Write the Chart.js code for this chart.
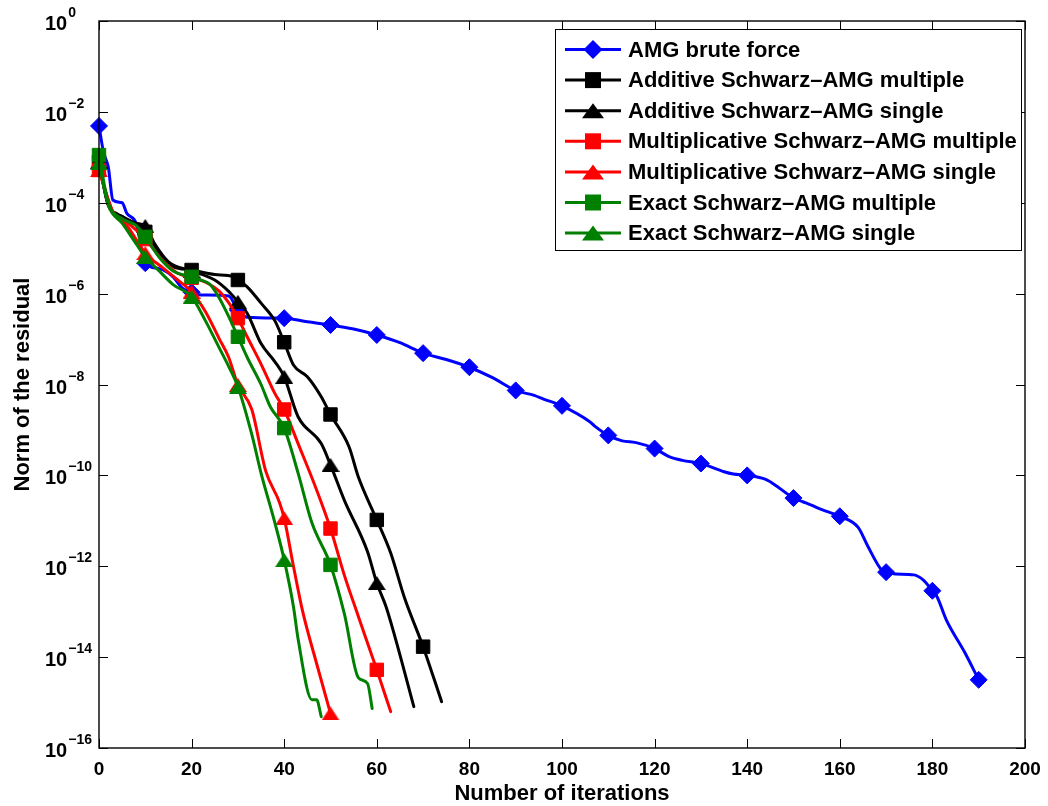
<!DOCTYPE html>
<html>
<head>
<meta charset="utf-8">
<script src="https://cdn.jsdelivr.net/npm/chart.js@4/dist/chart.umd.min.js"></script>
<style>
  html, body { margin: 0; padding: 0; background: #fff; }
  canvas { display: block; }
</style>
</head>
<body>
<canvas id="c" width="1048" height="806"></canvas>
<script>
// Residual history of each solver: iteration numbers and log10 of the residual norm
const seriesNames = [
  'AMG brute force',
  'Additive Schwarz\u2013AMG multiple',
  'Additive Schwarz\u2013AMG single',
  'Multiplicative Schwarz\u2013AMG multiple',
  'Multiplicative Schwarz\u2013AMG single',
  'Exact Schwarz\u2013AMG multiple',
  'Exact Schwarz\u2013AMG single'
];

const amgBruteIter = [0, 1, 2, 3, 5, 6, 8, 10, 13, 16, 18, 20, 22, 28, 30, 32, 40, 45, 50, 55, 60, 65, 70, 75, 80, 85, 90, 94, 96, 100, 106, 107, 110, 113, 116, 120, 123, 126, 130, 135, 137, 140, 144, 146, 150, 152, 154, 156, 160, 164, 166, 169, 170, 172, 176, 178, 180, 181, 183, 187, 190];
const amgBruteExp  = [-2.31, -2.90, -3.21, -3.94, -4.00, -4.23, -4.45, -5.33, -5.45, -5.63, -5.88, -5.97, -6.03, -6.05, -6.36, -6.52, -6.54, -6.62, -6.69, -6.78, -6.91, -7.08, -7.31, -7.45, -7.62, -7.85, -8.13, -8.24, -8.32, -8.47, -8.82, -8.91, -9.12, -9.24, -9.28, -9.41, -9.58, -9.67, -9.74, -9.92, -9.97, -10.00, -10.09, -10.21, -10.50, -10.58, -10.66, -10.75, -10.90, -11.15, -11.55, -12.08, -12.13, -12.17, -12.19, -12.30, -12.54, -12.67, -13.18, -13.90, -14.50];

const addMultiIter = [0, 2, 4, 7, 10, 13, 16, 20, 25, 29, 30, 32, 35, 38, 40, 42, 45, 48, 50, 54, 56, 60, 63, 66, 70, 74];
const addMultiExp  = [-3.10, -4.05, -4.25, -4.42, -4.64, -5.10, -5.40, -5.48, -5.58, -5.62, -5.70, -5.85, -6.21, -6.60, -7.07, -7.57, -7.83, -8.27, -8.66, -9.37, -10.03, -10.98, -11.71, -12.70, -13.77, -14.98];

const addSingleIter = [0, 2, 5, 8, 10, 12, 15, 20, 25, 28, 30, 32, 35, 38, 40, 43, 48, 50, 53, 58, 60, 62, 64, 68];
const addSingleExp  = [-3.10, -4.05, -4.30, -4.45, -4.51, -4.90, -5.30, -5.50, -5.70, -5.95, -6.18, -6.43, -7.10, -7.50, -7.83, -8.71, -9.30, -9.77, -10.55, -11.68, -12.37, -12.89, -13.58, -15.09];

const mulMultiIter = [0, 3, 6, 10, 14, 17, 20, 23, 26, 28, 30, 32, 35, 38, 40, 43, 47, 50, 53, 56, 60, 63];
const mulMultiExp  = [-3.28, -4.20, -4.42, -4.80, -5.30, -5.55, -5.65, -5.75, -5.95, -6.20, -6.54, -6.95, -7.55, -8.20, -8.55, -9.30, -10.32, -11.17, -12.20, -13.10, -14.28, -15.20];

const mulSingleIter = [0, 3, 6, 10, 14, 17, 20, 23, 26, 28, 30, 33, 36, 39, 40, 42, 44, 47, 50];
const mulSingleExp  = [-3.28, -4.20, -4.50, -5.11, -5.45, -5.70, -5.96, -6.40, -7.00, -7.40, -8.01, -8.55, -9.90, -10.60, -10.94, -12.00, -13.00, -14.14, -15.24];

const exMultiIter = [0, 2, 5, 8, 10, 13, 16, 20, 22, 24, 26, 28, 30, 32, 35, 37, 40, 43, 46, 50, 53, 56, 58, 59];
const exMultiExp  = [-2.95, -4.00, -4.35, -4.50, -4.75, -5.20, -5.50, -5.63, -5.70, -5.80, -6.10, -6.50, -6.95, -7.40, -8.00, -8.49, -8.96, -9.95, -11.05, -11.97, -13.05, -14.45, -14.58, -15.13];

const exSingleIter = [0, 2, 5, 8, 10, 13, 16, 20, 23, 26, 28, 30, 33, 35, 38, 40, 42, 43, 46, 47, 48];
const exSingleExp  = [-3.13, -4.05, -4.45, -4.90, -5.19, -5.50, -5.80, -6.07, -6.60, -7.20, -7.60, -8.05, -9.10, -9.95, -11.05, -11.86, -12.89, -13.60, -14.94, -14.94, -15.31];

const xTickValues = [0, 20, 40, 60, 80, 100, 120, 140, 160, 180, 200];
const yTickExponents = [0, -2, -4, -6, -8, -10, -12, -14, -16];

const FONT = '"Liberation Sans", Arial, Helvetica, sans-serif';
const TICK_LEN = 9;

// MATLAB-style upward triangle marker (wider than it is tall)
function triangleMarker(color, w, h) {
  const c = document.createElement('canvas');
  c.width = w; c.height = h;
  const g = c.getContext('2d');
  g.fillStyle = color;
  g.beginPath();
  g.moveTo(w / 2, 0);
  g.lineTo(w, h);
  g.lineTo(0, h);
  g.closePath();
  g.fill();
  return c;
}

function toPoints(iters, exps) {
  return iters.map((it, i) => ({ x: it, y: Math.pow(10, exps[i]) }));
}

const styles = [
  { color: '#0000ff', marker: 'rectRot',  r: 8.5 },
  { color: '#000000', marker: 'rect',     r: 9.5 },
  { color: '#000000', marker: 'triangle', r: 9.5 },
  { color: '#ff0000', marker: 'rect',     r: 9.5 },
  { color: '#ff0000', marker: 'triangle', r: 9.5 },
  { color: '#008000', marker: 'rect',     r: 9.5 },
  { color: '#008000', marker: 'triangle', r: 9.5 }
];

const seriesData = [
  toPoints(amgBruteIter, amgBruteExp),
  toPoints(addMultiIter, addMultiExp),
  toPoints(addSingleIter, addSingleExp),
  toPoints(mulMultiIter, mulMultiExp),
  toPoints(mulSingleIter, mulSingleExp),
  toPoints(exMultiIter, exMultiExp),
  toPoints(exSingleIter, exSingleExp)
];

const datasets = seriesData.map((data, i) => {
  const s = styles[i];
  const ps = s.marker === 'triangle' ? triangleMarker(s.color, 18, 14) : s.marker;
  return {
    label: seriesNames[i],
    data: data,
    borderColor: s.color,
    backgroundColor: s.color,
    borderWidth: 3,
    borderJoinStyle: 'round',
    borderCapStyle: 'round',
    cubicInterpolationMode: 'monotone',
    pointStyle: ps,
    pointBackgroundColor: s.color,
    pointBorderColor: s.color,
    pointBorderWidth: 1,
    pointRadius: (ctx) => (ctx.raw && ctx.raw.x % 10 === 0 ? s.r : 0),
    pointHoverRadius: 0,
    clip: false,
    order: seriesData.length - 1 - i
  };
});

// Axes box, inward ticks, tick labels, axis titles and legend
const axesDecor = {
  id: 'axesDecor',
  afterDraw(chart) {
    const { ctx, chartArea: a, scales } = chart;
    const xs = scales.x, ys = scales.y;
    ctx.save();
    ctx.strokeStyle = '#000';
    ctx.lineWidth = 1;
    ctx.beginPath();
    xs.ticks.forEach(t => {
      const px = Math.round(xs.getPixelForValue(t.value)) + 0.5;
      ctx.moveTo(px, a.bottom); ctx.lineTo(px, a.bottom - TICK_LEN);
      ctx.moveTo(px, a.top); ctx.lineTo(px, a.top + TICK_LEN);
    });
    ys.ticks.forEach(t => {
      const py = Math.round(ys.getPixelForValue(t.value)) + 0.5;
      ctx.moveTo(a.left, py); ctx.lineTo(a.left + TICK_LEN, py);
      ctx.moveTo(a.right, py); ctx.lineTo(a.right - TICK_LEN, py);
    });
    ctx.stroke();

    ctx.lineWidth = 1.4;
    ctx.strokeRect(a.left, a.top, a.right - a.left, a.bottom - a.top);

    // x tick labels
    ctx.fillStyle = '#000';
    ctx.font = 'bold 19px ' + FONT;
    ctx.textAlign = 'center';
    ctx.textBaseline = 'alphabetic';
    xs.ticks.forEach(t => {
      ctx.fillText(String(t.value), xs.getPixelForValue(t.value), a.bottom + 27);
    });

    // y tick labels: 10 with a raised exponent
    ys.ticks.forEach(t => {
      const py = ys.getPixelForValue(t.value);
      const e = Math.round(Math.log10(t.value));
      ctx.textAlign = 'left';
      ctx.font = 'bold 20px ' + FONT;
      const baseX = 45;
      ctx.fillText('10', baseX, py + 9);
      const w = ctx.measureText('10').width;
      ctx.font = 'bold 14px ' + FONT;
      ctx.fillText(e < 0 ? '\u2212' + Math.abs(e) : String(e), baseX + w + 1, py - 4);
    });

    // axis titles
    ctx.font = 'bold 22px ' + FONT;
    ctx.textAlign = 'center';
    ctx.fillText('Number of iterations', (a.left + a.right) / 2, a.bottom + 52);
    ctx.save();
    ctx.translate(23, (a.top + a.bottom) / 2);
    ctx.rotate(-Math.PI / 2);
    ctx.textBaseline = 'middle';
    ctx.fillText('Norm of the residual', 0, 0);
    ctx.restore();

    // legend
    const box = { x: 555.5, y: 29.5, w: 466, h: 221 };
    ctx.fillStyle = '#fff';
    ctx.fillRect(box.x, box.y, box.w, box.h);
    ctx.lineWidth = 1;
    ctx.strokeStyle = '#000';
    ctx.strokeRect(box.x, box.y, box.w, box.h);
    ctx.font = 'bold 22px ' + FONT;
    ctx.textAlign = 'left';
    ctx.textBaseline = 'middle';
    chart.data.datasets.forEach((ds, i) => {
      const s = styles[i];
      const cy = 49.5 + i * 30.6;
      ctx.strokeStyle = s.color;
      ctx.lineWidth = 3;
      ctx.beginPath();
      ctx.moveTo(565, cy); ctx.lineTo(621, cy);
      ctx.stroke();
      ctx.fillStyle = s.color;
      const mx = 593;
      ctx.beginPath();
      if (s.marker === 'rectRot') {
        const r = 9.5;
        ctx.moveTo(mx - r, cy); ctx.lineTo(mx, cy - r); ctx.lineTo(mx + r, cy); ctx.lineTo(mx, cy + r);
        ctx.closePath(); ctx.fill();
      } else if (s.marker === 'rect') {
        const h = 8;
        ctx.rect(mx - h, cy - h, 2 * h, 2 * h); ctx.fill();
      } else {
        const hw = 11, hh = 7.5;
        ctx.moveTo(mx, cy - hh); ctx.lineTo(mx + hw, cy + hh); ctx.lineTo(mx - hw, cy + hh);
        ctx.closePath(); ctx.fill();
      }
      ctx.fillStyle = '#000';
      ctx.fillText(ds.label, 628, cy + 1);
    });
    ctx.restore();
  }
};

new Chart(document.getElementById('c'), {
  type: 'line',
  data: { datasets },
  options: {
    responsive: false,
    devicePixelRatio: 1,
    animation: false,
    events: [],
    layout: { padding: { left: 99, top: 21, right: 23, bottom: 58 } },
    scales: {
      x: {
        type: 'linear',
        display: false,
        min: 0,
        max: 200,
        afterBuildTicks: (scale) => { scale.ticks = xTickValues.map(v => ({ value: v })); }
      },
      y: {
        type: 'logarithmic',
        display: false,
        min: Math.pow(10, yTickExponents[yTickExponents.length - 1]),
        max: Math.pow(10, yTickExponents[0]),
        afterBuildTicks: (scale) => { scale.ticks = yTickExponents.map(e => ({ value: Math.pow(10, e) })); }
      }
    },
    plugins: { legend: { display: false }, tooltip: { enabled: false } }
  },
  plugins: [axesDecor]
});
</script>
</body>
</html>
